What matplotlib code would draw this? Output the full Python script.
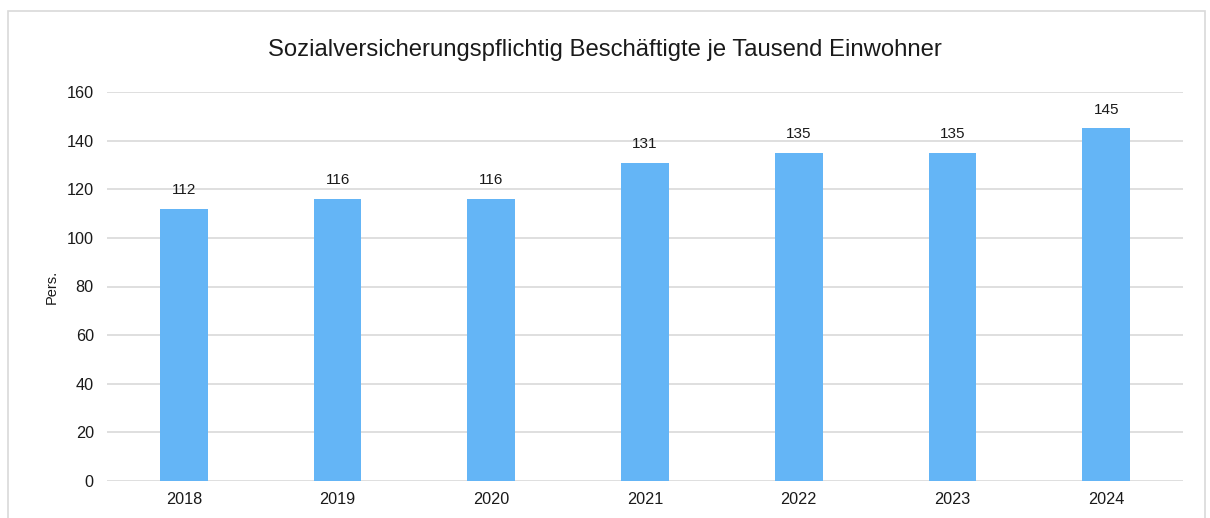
import matplotlib.pyplot as plt
from matplotlib.patches import Rectangle

# Werte aus dem Diagramm
jahre = ["2018", "2019", "2020", "2021", "2022", "2023", "2024"]
beschaeftigte = [112, 116, 116, 131, 135, 135, 145]
y_ticks = [0, 20, 40, 60, 80, 100, 120, 140, 160]

plt.rcParams['font.family'] = ['Liberation Sans', 'DejaVu Sans']

fig = plt.figure(figsize=(12.1, 5.18), dpi=100)
ax = fig.add_axes([107 / 1210, 37 / 518, 1076 / 1210, 389 / 518])

# heller Rahmen um das ganze Diagramm
fig.patches.append(Rectangle((8 / 1210, -0.1), 1197 / 1210, 1.1 - 11 / 518,
                             transform=fig.transFigure, fill=False,
                             edgecolor="#d9d9d9", linewidth=1.2))

x = list(range(len(jahre)))
balken = ax.bar(x, beschaeftigte, width=0.31, color="#64b5f6", zorder=3)

for xi, wert in zip(x, beschaeftigte):
    ax.annotate(str(wert), (xi, wert), xytext=(0, 8.5), textcoords="offset points",
                ha="center", va="bottom", fontsize=11, color="#1a1a1a")

ax.set_xlim(-0.5, len(jahre) - 0.5)
ax.set_ylim(0, 160)
ax.set_yticks(y_ticks)
ax.set_xticks(x)
ax.set_xticklabels(jahre)
ax.tick_params(axis="both", length=0, labelsize=11.7, colors="#1a1a1a")
ax.tick_params(axis="x", pad=8)
ax.tick_params(axis="y", pad=9.5)

ax.grid(axis="y", color="#d9d9d9", linewidth=1.2, zorder=0)
for s in ax.spines.values():
    s.set_visible(False)

ax.set_ylabel("Pers.", fontsize=10.5, color="#1a1a1a", labelpad=6)
fig.text(0.5, 1 - 50 / 518, "Sozialversicherungspflichtig Beschäftigte je Tausend Einwohner",
         ha="center", va="center", fontsize=17.2, color="#1a1a1a")

fig.savefig("out.png", dpi=100)
